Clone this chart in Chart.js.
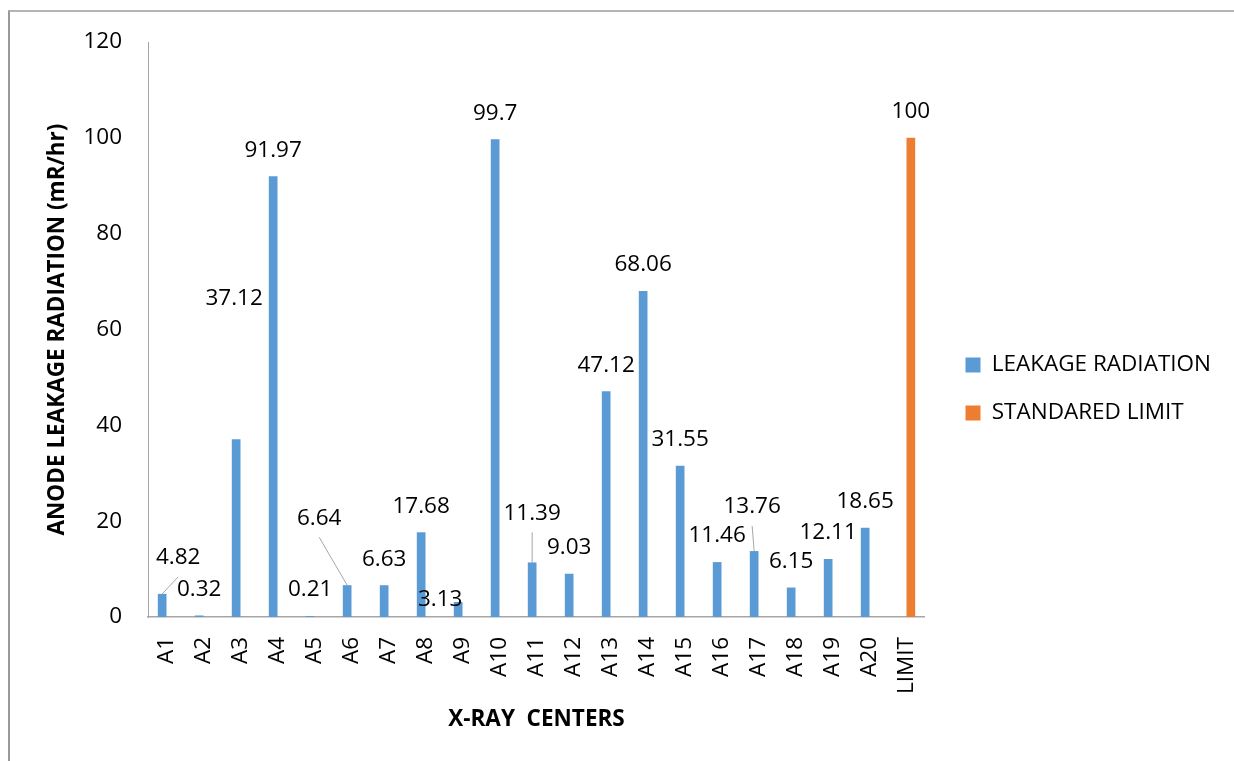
<!DOCTYPE html>
<html><head><meta charset="utf-8">
<script src="https://cdn.jsdelivr.net/npm/chart.js@4.4.0/dist/chart.umd.min.js"></script>
<style>
html,body{margin:0;padding:0;background:#fff;overflow:hidden}
#wrap{position:relative;width:1234px;height:761px;overflow:hidden}
#frame{position:absolute;left:8px;top:10px;width:1300px;height:800px;border-top:2px solid #b4b4b4;border-left:2px solid #999;pointer-events:none}
canvas{position:absolute;left:0;top:0}
</style></head><body>
<div id="wrap"><div id="frame"></div><canvas id="c" width="1234" height="761"></canvas></div>
<script>
const categories = ['A1','A2','A3','A4','A5','A6','A7','A8','A9','A10','A11','A12','A13','A14','A15','A16','A17','A18','A19','A20','LIMIT'];
const leakage = [4.82,0.32,37.12,91.97,0.21,6.64,6.63,17.68,3.13,99.7,11.39,9.03,47.12,68.06,31.55,11.46,13.76,6.15,12.11,18.65,null];
const standardLimit = [null,null,null,null,null,null,null,null,null,null,null,null,null,null,null,null,null,null,null,null,100];
const yTickValues = [0,20,40,60,80,100,120];
const seriesNames = ['LEAKAGE RADIATION','STANDARED LIMIT'];

// manual nudges of individual value labels (px), as in the original figure
const labelOffsets = {0:[16,-10],2:[-2,-115],5:[-28,-41],8:[-18,24],10:[0,-23],16:[-2,-18]};
const leaderLines = [0,5,10,16];

const FONT = "'Open Sans', sans-serif";
const FS = 22.5;
Chart.defaults.font.family = FONT;
Chart.defaults.color = '#000';

const labelPlugin = {
  id: 'barLabels',
  afterDatasetsDraw(chart) {
    const ctx = chart.ctx;
    ctx.save();
    ctx.font = FS + "px " + FONT;
    ctx.fillStyle = '#000';
    ctx.textAlign = 'center';
    ctx.textBaseline = 'middle';
    chart.data.datasets.forEach((ds, di) => {
      const meta = chart.getDatasetMeta(di);
      meta.data.forEach((bar, i) => {
        const v = ds.data[i];
        if (v === null || v === undefined) return;
        const off = (di === 0 && labelOffsets[i]) ? labelOffsets[i] : [0, 0];
        const lx = bar.x + off[0];
        const ly = bar.y - 26 + off[1];
        if (di === 0 && leaderLines.includes(i)) {
          ctx.save();
          ctx.strokeStyle = '#a6a6a6';
          ctx.lineWidth = 1;
          ctx.beginPath();
          ctx.moveTo(bar.x, bar.y);
          ctx.lineTo(lx, ly + 19);
          ctx.stroke();
          ctx.restore();
        }
        ctx.fillText(String(v), lx, ly);
      });
    });
    ctx.restore();
  }
};

new Chart(document.getElementById('c'), {
  type: 'bar',
  data: {
    labels: categories,
    datasets: [
      { label: seriesNames[0], data: leakage, backgroundColor: '#5b9bd5', categoryPercentage: 0.47, barPercentage: 1.0 },
      { label: seriesNames[1], data: standardLimit, backgroundColor: '#ed7d31', categoryPercentage: 0.47, barPercentage: 1.0 }
    ]
  },
  options: {
    responsive: false,
    animation: false,
    devicePixelRatio: 1,
    layout: { padding: { top: 42, left: 0, right: 13, bottom: 25 } },
    plugins: {
      tooltip: { enabled: false },
      legend: {
        position: 'right',
        maxWidth: 400,
        labels: { boxWidth: 15, boxHeight: 15, padding: 25.5, color: '#000', font: { size: FS } }
      }
    },
    scales: {
      x: {
        grid: { display: false, drawTicks: false },
        border: { display: true, color: '#a6a6a6', width: 1.5 },
        ticks: { minRotation: 90, maxRotation: 90, padding: 20, color: '#000', font: { size: FS } },
        title: { display: true, text: 'X-RAY  CENTERS', color: '#000', font: { size: FS, weight: 'bold' }, padding: { top: 0, bottom: 2.5 } },
        afterFit: s => { s.height = 119; }
      },
      y: {
        min: 0, max: 120,
        afterBuildTicks: s => { s.ticks = yTickValues.map(v => ({ value: v })); },
        grid: { display: false, drawTicks: false },
        border: { display: true, color: '#a6a6a6', width: 1 },
        ticks: { padding: 26, color: '#000', font: { size: FS } },
        title: { display: true, text: 'ANODE LEAKAGE RADIATION (mR/hr)', color: '#000', font: { size: FS, weight: 'bold' }, padding: { top: 44.5, bottom: 0 } },
        afterFit: s => { s.width = 148; }
      },
      spacer: {
        type: 'linear', position: 'right', display: true,
        grid: { display: false, drawTicks: false },
        border: { display: false },
        ticks: { display: false },
        afterFit: s => { s.width = 15; }
      }
    }
  },
  plugins: [labelPlugin]
});
</script>
</body></html>
